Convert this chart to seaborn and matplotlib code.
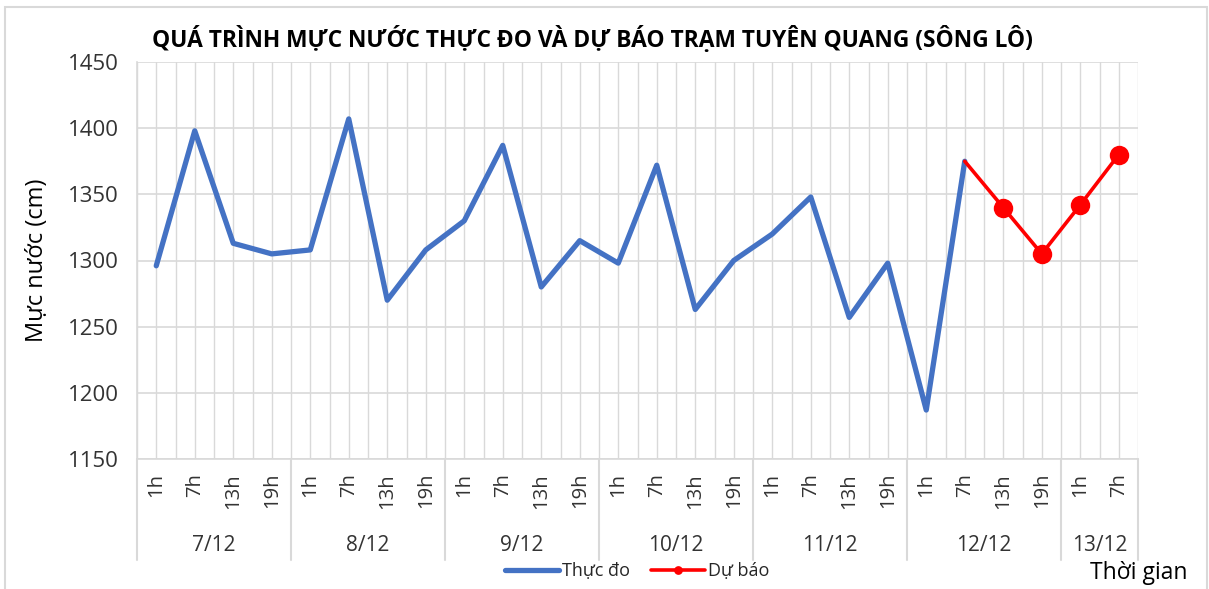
import matplotlib
matplotlib.use('Agg')
import matplotlib.pyplot as plt
import matplotlib.transforms as mtransforms
import numpy as np
import pandas as pd
import seaborn as sns

sns.set_style('white')
plt.rcParams['font.family'] = ['Open Sans', 'DejaVu Sans']

# data
days = ['7/12', '8/12', '9/12', '10/12', '11/12', '12/12', '13/12']
hours_per_day = [4, 4, 4, 4, 4, 4, 2]
hour_names = ['1h', '7h', '13h', '19h']
observed = [1296, 1398, 1313, 1305,
            1308, 1407, 1270, 1308,
            1330, 1387, 1280, 1315,
            1298, 1372, 1263, 1300,
            1320, 1348, 1257, 1298,
            1187, 1375]
forecast = [1375, 1340, 1305, 1342, 1380]

hour_labels = [hour_names[i] for n in hours_per_day for i in range(n)]
n_cat = len(hour_labels)
obs_df = pd.DataFrame({'pos': np.arange(len(observed)), 'level': observed})
fc_start = len(observed) - 1
fc_df = pd.DataFrame({'pos': np.arange(fc_start, fc_start + len(forecast)), 'level': forecast})

grid_c = '#d9d9d9'
txt_c = '#333333'

fig = plt.figure(figsize=(12.09, 5.89), dpi=100)
ax = fig.add_axes([137 / 1209, 1 - 459 / 589, 1001 / 1209, 397 / 589])

sns.lineplot(data=obs_df, x='pos', y='level', ax=ax, color='#4472C4', linewidth=3.8,
             label='Thực đo', solid_capstyle='round')
sns.lineplot(data=fc_df, x='pos', y='level', ax=ax, color='#FF0000', linewidth=2.6,
             marker='o', markersize=14, markevery=list(range(1, len(forecast))),
             markeredgewidth=0, label='Dự báo')

ax.set_xlim(-0.5, n_cat - 0.5)
ax.set_ylim(1150, 1450)
ax.set_yticks(np.arange(1150, 1451, 50))
ax.set_xticks(np.arange(n_cat))
ax.set_xticklabels(hour_labels, rotation=90, fontsize=14.5, color=txt_c)
ax.set_xticks(np.arange(-0.5, n_cat, 0.5), minor=True)
ax.tick_params(axis='x', which='both', length=0, pad=10)
ax.tick_params(axis='y', length=0, pad=13, labelsize=16, labelcolor=txt_c)
ax.grid(True, which='both', axis='x', color=grid_c, linewidth=1)
ax.grid(True, which='major', axis='y', color=grid_c, linewidth=1.2)
ax.set_axisbelow(True)
for side in ['top', 'right']:
    ax.spines[side].set_visible(False)
for side in ['left', 'bottom']:
    ax.spines[side].set_color(grid_c)
    ax.spines[side].set_linewidth(1.2)

ax.set_xlabel('')
ax.set_ylabel('Mực nước (cm)', fontsize=17, color='black')
ax.yaxis.set_label_coords(-0.088, 0.5)

# day groups under the hour labels
trans = mtransforms.blended_transform_factory(ax.transData, ax.transAxes)
bounds = np.concatenate([[0], np.cumsum(hours_per_day)]) - 0.5
for b in bounds:
    ax.plot([b, b], [0, -0.255], transform=trans, color=grid_c, linewidth=1.5, clip_on=False)
for d, a, b in zip(days, bounds[:-1], bounds[1:]):
    ax.text((a + b) / 2, -0.217, d, transform=trans, ha='center', va='center',
            fontsize=15, color=txt_c)

ax.get_legend().remove()
handles, labels = ax.get_legend_handles_labels()
fig.legend(handles, labels, loc='center', bbox_to_anchor=(0.527, 1 - 571 / 589), ncol=2,
           frameon=False, fontsize=13, handlelength=3.0, columnspacing=1.2,
           handletextpad=0.15, markerscale=0.45)

fig.text(1187 / 1209, 1 - 573 / 589, 'Thời gian', ha='right', va='center', fontsize=16.5, color='black')
fig.text(592 / 1209, 1 - 40 / 589, 'QUÁ TRÌNH MỰC NƯỚC THỰC ĐO VÀ DỰ BÁO TRẠM TUYÊN QUANG (SÔNG LÔ)',
         ha='center', va='center', fontsize=16.4, fontweight='bold', color='black')

fig.patches.append(plt.Rectangle((5 / 1209, -0.01), 1202 / 1209, 1 - 7 / 589 + 0.01,
                                 transform=fig.transFigure, fill=False, edgecolor=grid_c,
                                 linewidth=1.5))

fig.savefig('out.png', dpi=100)
